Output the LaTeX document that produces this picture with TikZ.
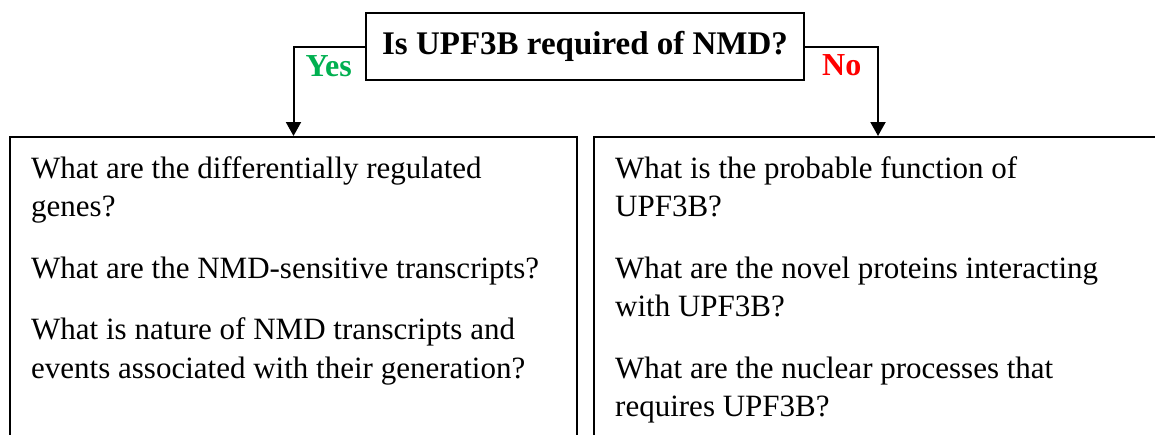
\documentclass[tikz,border=0pt]{standalone}
\usepackage{fontspec}
\setmainfont{Liberation Serif}
\usetikzlibrary{arrows.meta,positioning}
\definecolor{yesgreen}{RGB}{0,176,80}
\definecolor{nored}{RGB}{255,0,0}
\begin{document}
\begin{tikzpicture}[x=1pt,y=1pt,
	qbox/.style={draw,line width=2pt,minimum width=#1,minimum height=340pt,anchor=north west,inner sep=0pt},
	query/.style={align=left,anchor=north west,inner sep=0pt,font=\fontsize{31}{38.5}\selectfont},
	answer/.style={inner sep=0pt,font=\fontsize{32}{32}\selectfont\bfseries},
	link/.style={line width=2pt,-{Triangle[width=15pt,length=14pt]}}]
		\useasboundingbox (0,0) rectangle (1155,-434);
		\clip (0,0) rectangle (1155,-434);
		
		\node[draw,line width=2pt,minimum width=438pt,minimum height=67pt,inner sep=0pt,
			font=\fontsize{33}{33}\selectfont\bfseries] (question) at (585,-46.5) {Is UPF3B required of NMD?};
		
		\node[qbox=567pt] (leftbox)  at (9,-136)   {};
		\node[qbox=568pt] (rightbox) at (593,-136) {};
		
		\node[query] (lefttext) at (31,-156) {What are the differentially regulated\\ genes?\\[23pt]
			What are the NMD-sensitive transcripts?\\[23pt]
			What is nature of NMD transcripts and\\ events associated with their generation?};
		\node[query] (righttext) at (615,-156) {What is the probable function of\\ UPF3B?\\[23pt]
			What are the novel proteins interacting\\ with UPF3B?\\[23pt]
			What are the nuclear processes that\\ requires UPF3B?};
		
		\draw[link] (question.west) -| (leftbox.north);
		\draw[link] (question.east) -| (rightbox.north);
		
		\node[answer,text=yesgreen,anchor=base east] (yes) at ([xshift=-13pt,yshift=5pt]question.south west) {Yes};
		\node[answer,text=nored,anchor=base west]    (no)  at ([xshift=17pt,yshift=6pt]question.south east)  {No};
\end{tikzpicture}
\end{document}
